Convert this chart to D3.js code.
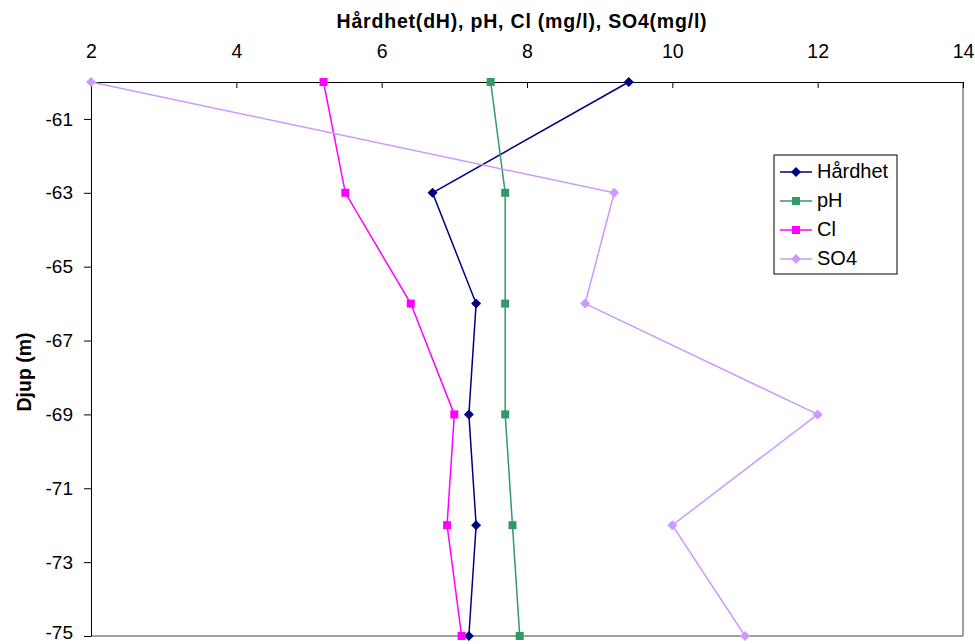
<!DOCTYPE html>
<html><head><meta charset="utf-8">
<script src="https://cdn.jsdelivr.net/npm/d3@7"></script>
<style>body{margin:0;background:#fff;font-family:Arial,"Liberation Sans",sans-serif}</style>
</head><body>
<svg id="c" width="975" height="644"></svg>
<script>
const depths = [-60, -63, -66, -69, -72, -75];
const hardhet = [9.4, 6.7, 7.3, 7.2, 7.3, 7.2];
const pH = [7.5, 7.7, 7.7, 7.7, 7.8, 7.9];
const cl = [5.2, 5.5, 6.4, 7.0, 6.9, 7.1];
const so4 = [2.0, 9.2, 8.8, 12.0, 10.0, 11.0];
const xTicks = [2, 4, 6, 8, 10, 12, 14];
const yTicks = [-61, -63, -65, -67, -69, -71, -73, -75];
const seriesNames = ["Hårdhet", "pH", "Cl", "SO4"];
const seriesColors = ["#000080", "#339966", "#FF00FF", "#CC99FF"];
const seriesShapes = ["diamond", "square", "square", "diamond"];
const seriesValues = [hardhet, pH, cl, so4];

const FONT = "Arial, 'Liberation Sans', sans-serif";
const svg = d3.select("#c");
const L = 91, R = 963, T = 82, B = 636;
const x = d3.scaleLinear().domain([2, 14]).range([L, R]);
const y = d3.scaleLinear().domain([-60, -75]).range([T, B]);

// plot border (right & bottom grey)
svg.append("line").attr("x1", R).attr("x2", R).attr("y1", T).attr("y2", B).attr("stroke", "#808080").attr("stroke-width", 1.5);
svg.append("line").attr("x1", L).attr("x2", R).attr("y1", B).attr("y2", B).attr("stroke", "#808080").attr("stroke-width", 1.5);

// top axis
const xa = svg.append("g").attr("transform", `translate(0,${T})`)
  .call(d3.axisTop(x).tickValues(xTicks).tickSizeInner(-6).tickSizeOuter(0).tickPadding(24).tickFormat(d => String(d)));
xa.attr("font-size", null).attr("font-family", null);
xa.select(".domain").attr("stroke", "#000");
xa.selectAll("text").style("font-size", "19.5px").style("font-family", FONT).attr("fill", "#000");
xa.selectAll(".tick line").attr("stroke", "#000");

// left axis
const ya = svg.append("g").attr("transform", `translate(${L},0)`)
  .call(d3.axisLeft(y).tickValues(yTicks).tickSizeInner(7).tickSizeOuter(0).tickPadding(11).tickFormat(d => String(d)));
ya.attr("font-size", null).attr("font-family", null);
ya.select(".domain").attr("stroke", "#000");
ya.selectAll("text").style("font-size", "19px").style("font-family", FONT).attr("fill", "#000");
ya.selectAll("text").filter(d => d === -75).attr("dy", "0.15em");

// titles
svg.append("text").attr("x", 522).attr("y", 28).attr("text-anchor", "middle")
  .style("font-size", "19.5px").style("font-family", FONT).style("letter-spacing", "0.8px")
  .attr("font-weight", "bold").text("Hårdhet(dH), pH, Cl (mg/l), SO4(mg/l)");
svg.append("text").attr("transform", `translate(31,372) rotate(-90)`).attr("text-anchor", "middle")
  .style("font-size", "19.5px").style("font-family", FONT).attr("font-weight", "bold").text("Djup (m)");

const line = d3.line().x(d => x(d[0])).y(d => y(d[1]));
function marker(g, shape, color, cx, cy) {
  if (shape === "square") {
    g.append("rect").attr("x", cx - 4).attr("y", cy - 4).attr("width", 8).attr("height", 8).attr("fill", color);
  } else {
    g.append("path").attr("d", `M${cx},${cy - 5}L${cx + 5},${cy}L${cx},${cy + 5}L${cx - 5},${cy}Z`).attr("fill", color);
  }
}
seriesValues.forEach((vals, i) => {
  const pts = vals.map((v, j) => [v, depths[j]]);
  const g = svg.append("g");
  g.append("path").attr("d", line(pts)).attr("fill", "none").attr("stroke", seriesColors[i]).attr("stroke-width", 1.5);
  pts.forEach(p => marker(g, seriesShapes[i], seriesColors[i], x(p[0]), y(p[1])));
});

// legend
const lg = svg.append("g");
lg.append("rect").attr("x", 774).attr("y", 155).attr("width", 123).attr("height", 119).attr("fill", "#fff").attr("stroke", "#000").attr("stroke-width", 1);
seriesNames.forEach((n, i) => {
  const yy = 172 + i * 29;
  lg.append("line").attr("x1", 780).attr("x2", 812).attr("y1", yy).attr("y2", yy).attr("stroke", seriesColors[i]).attr("stroke-width", 1.5);
  marker(lg, seriesShapes[i], seriesColors[i], 796, yy);
  lg.append("text").attr("x", 817).attr("y", yy + 6).style("font-size", "20px").style("font-family", FONT).text(n);
});
</script>
</body></html>
